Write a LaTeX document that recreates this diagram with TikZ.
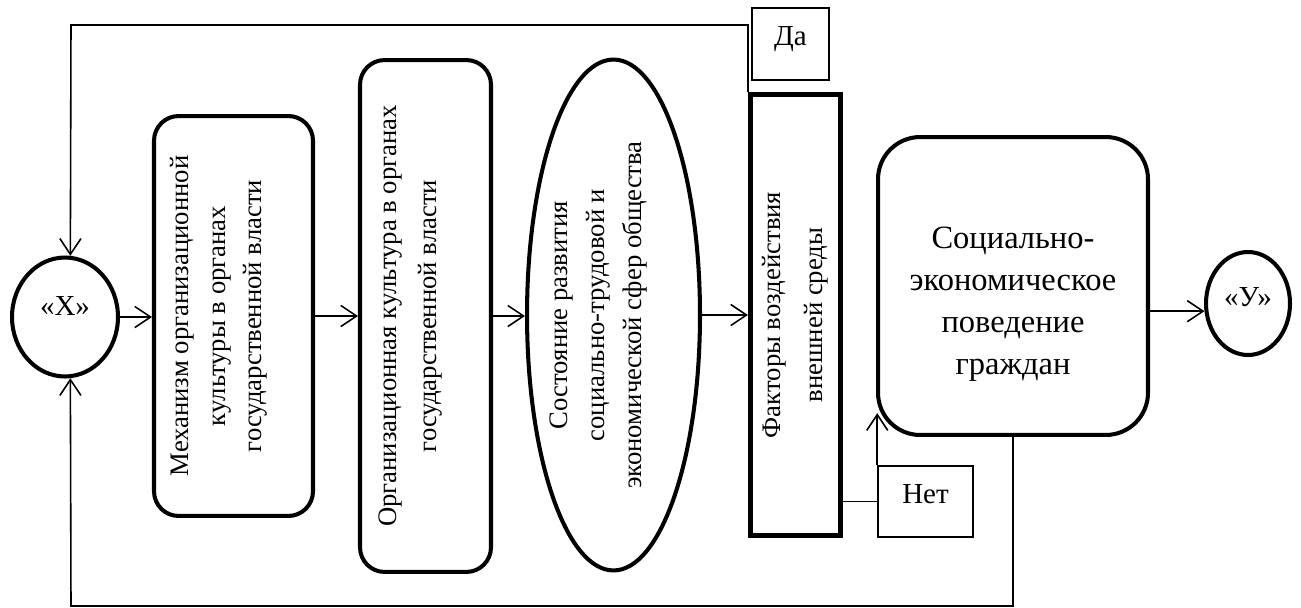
\documentclass[tikz,border=0pt]{standalone}
\usepackage{fontspec}
\setmainfont{Liberation Serif}
\usetikzlibrary{shapes.geometric,arrows.meta}

\begin{document}
\begin{tikzpicture}[x=0.02cm,y=-0.02cm,
  conn/.style={line width=0.9pt,-{Straight Barb[length=9pt,width=12pt]}},
  wire/.style={line width=0.9pt},
  circ/.style={draw,ellipse,line width=2.3pt,inner sep=0pt,font=\fontsize{16.5}{20}\selectfont},
  vbox/.style={draw,line width=2.3pt,rotate=90,align=center,inner sep=0pt,font=\fontsize{15.2}{21}\selectfont},
  tag/.style={draw,line width=0.9pt,inner sep=0pt,font=\fontsize{16.5}{20}\selectfont}]
% Frame
\useasboundingbox (0,0) rectangle (1301,608);
\def\pad{\rule[-20pt]{0pt}{20pt}}

% Blocks
\node[circ,minimum width=2.12cm,minimum height=2.38cm] (X) at (65,317) {\raisebox{6pt}[\height][\depth]{«Х»}};
\node[vbox,rounded corners=14pt,minimum width=8cm,minimum height=3.18cm] (mech) at (233.5,316)
  {Механизм организационной\\культуры в органах\\государственной власти\pad};
\node[vbox,rounded corners=14pt,font=\fontsize{15.2}{23}\selectfont,minimum width=10.24cm,minimum height=2.62cm] (org) at (425.5,316)
  {Организационная культура в органах\\государственной власти\pad};
\node[vbox,ellipse,inner ysep=-4pt,minimum width=10.22cm,minimum height=3.46cm] (state) at (613.5,315)
  {Состояние развития\\социально-трудовой и\\экономической сфер общества\pad};
\node[vbox,line width=2.9pt,font=\fontsize{15.2}{24}\selectfont,minimum width=8.82cm,minimum height=1.8cm] (fak) at (795.5,315)
  {Факторы воздействия\\внешней среды};
\node[draw,line width=2.3pt,rounded corners=24pt,align=center,inner sep=0pt,font=\fontsize{18.5}{24}\selectfont,
  minimum width=5.4cm,minimum height=5.96cm] (soc) at (1013,286)
  {\rule{0pt}{33pt}Социально-\\экономическое\\поведение\\граждан};
\node[circ,minimum width=1.68cm,minimum height=2.06cm] (Y) at (1248,303.5) {\raisebox{3.5pt}[\height][\depth]{«У»}};

% Labels
\node[tag,minimum width=1.54cm,minimum height=1.44cm] (yes) at (790.5,44) {\raisebox{3pt}[\height][\depth]{Да}};
\node[tag,minimum width=1.9cm,minimum height=1.42cm] (net) at (925.5,501.5) {\raisebox{4pt}[\height][\depth]{Нет}};

\coordinate (tl) at (71,25);
\coordinate (bl) at (71,606);

% Arrows
\draw[conn] (X.east) -- (X.east -| mech.north);
\draw[conn] (mech.south) -- (mech.south -| org.north);
\draw[conn] (org.south) -- (org.south -| state.north);
\draw[conn] (state.south) -- (state.south -| fak.north);
\draw[conn] (Y.190 -| soc.east) -- (Y.190);
\draw[wire] (net.west -| fak.south) -- (net.west);
\draw[conn] (net.north west) -- ++(0,-52);
\draw[conn] (fak.north east) |- (tl) -- (X.85);
\draw[conn] (soc.south) |- (bl) -- (X.275);
\end{tikzpicture}
\end{document}
